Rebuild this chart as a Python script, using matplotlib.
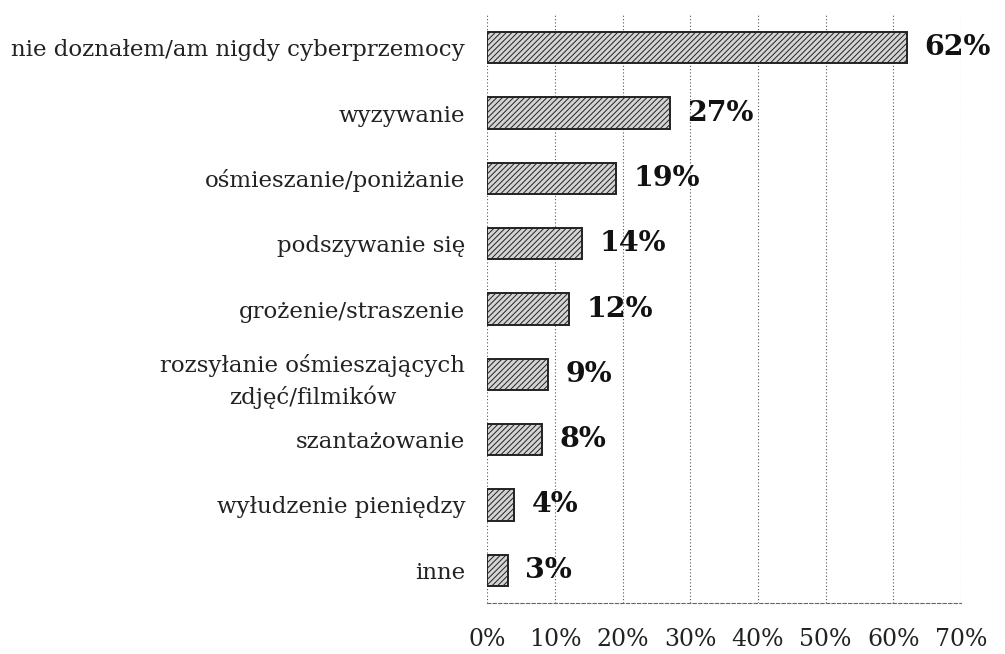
import matplotlib
matplotlib.use("Agg")
import matplotlib.pyplot as plt

categories = ["nie doznałem/am nigdy cyberprzemocy", "wyzywanie", "ośmieszanie/poniżanie",
              "podszywanie się", "grożenie/straszenie",
              "rozsyłanie ośmieszających\nzdjęć/filmików", "szantażowanie",
              "wyłudzenie pieniędzy", "inne"]
values = [62, 27, 19, 14, 12, 9, 8, 4, 3]
xticks = [0, 10, 20, 30, 40, 50, 60, 70]
xticklabels = [f"{t}%" for t in xticks]

plt.rcParams['font.family'] = ['DejaVu Serif']
plt.rcParams['hatch.linewidth'] = 0.7
plt.rcParams['hatch.color'] = '#303030'

fig = plt.figure(figsize=(10.05, 6.54), dpi=100)
ax = fig.add_axes([0.485, 0.078, 0.471, 0.899])

y = list(range(len(categories)))
ax.barh(y, values, height=0.48, color='#d4d4d4', edgecolor='#222222',
        linewidth=1.4, hatch='//////', zorder=3)
for yi, v in zip(y, values):
    ax.text(v + 2.6, yi, f"{v}%", va='center', ha='left', fontsize=20.5,
            fontweight='bold', color='#111111')

ax.set_ylim(len(categories) - 0.5, -0.5)
ax.set_xlim(0, 70)
ax.set_yticks(y)
ax.set_yticklabels(categories, fontsize=16.5, color='#222222', linespacing=1.5)
for lbl in ax.get_yticklabels():
    lbl.set_multialignment('center')
ax.set_xticks(xticks)
ax.set_xticklabels(xticklabels, fontsize=17, color='#222222')
ax.tick_params(axis='x', length=0, pad=18)
ax.tick_params(axis='y', length=0, pad=16)
ax.xaxis.grid(True, linestyle=(0, (1, 2)), color='#555555', linewidth=0.8, zorder=0)
for s in ['top', 'right', 'left']:
    ax.spines[s].set_visible(False)
ax.spines['bottom'].set_linestyle((0, (3, 2)))
ax.spines['bottom'].set_color('#666666')
ax.spines['bottom'].set_linewidth(0.8)

fig.savefig("out.png", dpi=100)
